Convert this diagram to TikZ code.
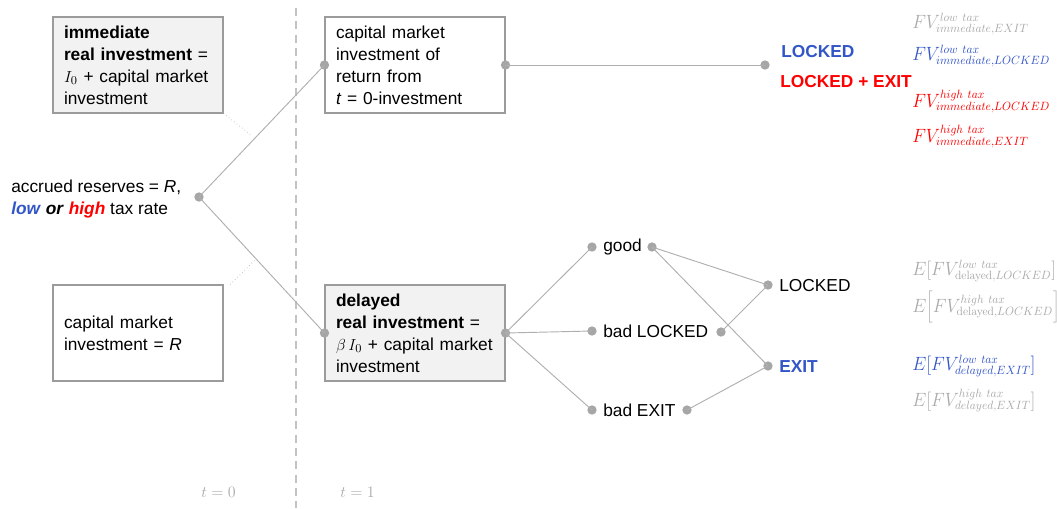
\documentclass[tikz,border=0pt]{standalone}
\usepackage[no-math]{fontspec}
\setmainfont{Liberation Sans}
\DeclareMathSizes{13.5}{14.4}{9}{7}
\definecolor{myblue}{RGB}{50,85,200}
\definecolor{myred}{RGB}{255,0,0}
\definecolor{txtgray}{RGB}{170,170,170}
\definecolor{linegray}{RGB}{175,175,175}
\definecolor{dotgray}{RGB}{166,166,166}
\definecolor{boxborder}{RGB}{155,155,155}
\definecolor{boxfill}{RGB}{242,242,242}
\newcommand{\fmlbox}[1]{\scalebox{0.93}[1]{$#1$}}
\begin{document}
\begin{tikzpicture}[x=0.75pt,y=-0.75pt,
  font=\fontsize{13}{16.5}\selectfont,
  box/.style={draw=boxborder,line width=0.8pt,rectangle,minimum height=72pt,align=left,inner xsep=8.25pt,inner ysep=0pt},
  shaded/.style={fill=boxfill},
  dotnode/.style={circle,fill=dotgray,inner sep=0pt,minimum size=7pt},
  conn/.style={draw=linegray,line width=0.7pt},
  callout/.style={draw=linegray,line width=0.5pt,dotted},
  lbl/.style={anchor=west,inner sep=0pt},
  fml/.style={anchor=base west,inner sep=0pt,font=\fontsize{13.5}{16}\selectfont},
]
\useasboundingbox (0,0) rectangle (1057,508);
% time divider
\draw[draw=txtgray!70,line width=0.8pt,dash pattern=on 6pt off 4pt] (296,8) coordinate (dtop) -- (296,508) coordinate (dbot);
\node[anchor=base west,inner sep=0pt,text=txtgray] (t0) at (201,497) {$t=0$};
\node[anchor=base west,inner sep=0pt,text=txtgray] (t1) at (340,497) {$t=1$};

% boxes
\node[box,shaded,text width=111pt] (A) at (138,65) {\textbf{immediate}\\\textbf{real investment} =\\$I_0$ + capital market\\investment};
\node[box,text width=111pt] (B) at (138,333) {capital market\\investment = \textit{R}};
\node[box,text width=118.5pt] (C) at (415,65) {capital market\\investment of\\return from\\\textit{t} = 0-investment};
\node[box,shaded,text width=118.5pt] (D) at (415,333) {\textbf{delayed}\\\textbf{real investment} =\\$\beta\, I_0$ + capital market\\investment};

% root
\node[anchor=west,align=left,inner sep=0pt] (rootlbl) at (11,199.5) {accrued reserves = \textit{R},\\\textcolor{myblue}{\textbf{\textit{low}}} \textbf{\textit{or}} \textcolor{myred}{\textbf{\textit{high}}} tax rate};
\node[dotnode] (root) at (199,197) {};
\node[dotnode] (Cw) at (C.west) {};
\node[dotnode] (Dw) at (D.west) {};
\node[dotnode] (Ce) at (C.east) {};
\node[dotnode] (De) at (D.east) {};
\draw[conn] (root.center) -- (Cw.center);
\draw[conn] (root.center) -- (Dw.center);

% callouts
\coordinate (ca) at (251,135);
\coordinate (cb) at (256,259);
\draw[callout] (A.south east) -- (ca);
\draw[callout] ([xshift=5pt]B.north east) -- (cb);

% immediate branch
\node[dotnode] (imm) at (765,65) {};
\draw[conn] (Ce.center) -- (imm.center);
\node[lbl,text=myblue,font=\fontsize{13}{16.5}\selectfont\bfseries] (lockedA) at (781,52) {LOCKED};
\node[lbl,text=myred,font=\fontsize{13}{16.5}\selectfont\bfseries] (lockedexit) at (780,82) {LOCKED + EXIT};

% delayed branch
\node[dotnode] (goodL) at (592,247) {};
\node[dotnode] (blL) at (592,331) {};
\node[dotnode] (beL) at (592,410) {};
\node[lbl] (good) at (603,247) {good};
\node[lbl] (badlocked) at (603,331) {bad LOCKED};
\node[lbl] (badexit) at (603,410) {bad EXIT};
\node[dotnode] (goodR) at (652,247) {};
\node[dotnode] (blR) at (721,332) {};
\node[dotnode] (beR) at (687,410) {};
\draw[conn] (De.center) -- (goodL.center);
\draw[conn] (De.center) -- (blL.center);
\draw[conn] (De.center) -- (beL.center);

\node[dotnode] (lockD) at (768,285) {};
\node[dotnode] (exitD) at (768,366) {};
\node[lbl] (lockedB) at (779,286) {LOCKED};
\node[lbl,text=myblue,font=\fontsize{13}{16.5}\selectfont\bfseries] (exitB) at (779,367) {EXIT};
\draw[conn] (goodR.center) -- (lockD.center);
\draw[conn] (goodR.center) -- (exitD.center);
\draw[conn] (blR.center) -- (lockD.center);
\draw[conn] (beR.center) -- (exitD.center);

% formulas immediate
\node[fml,text=txtgray] (f1) at (912,28) {\fmlbox{FV^{low\ tax}_{immediate,EXIT}}};
\node[fml,text=myblue] (f2) at (912,60) {\fmlbox{FV^{low\ tax}_{immediate,LOCKED}}};
\node[fml,text=myred] (f3) at (912,107) {\fmlbox{FV^{high\ tax}_{immediate,LOCKED}}};
\node[fml,text=myred] (f4) at (912,142) {\fmlbox{FV^{high\ tax}_{immediate,EXIT}}};

% formulas delayed
\node[fml,text=txtgray] (e1) at (912,275) {\fmlbox{E\Big[FV^{low\ tax}_{\mathrm{delayed},LOCKED}\Big]}};
\node[fml,text=txtgray] (e2) at (912,312) {\fmlbox{E\bigg[FV^{high\ tax}_{\mathrm{delayed},LOCKED}\bigg]}};
\node[fml,text=myblue] (e3) at (912,370) {\fmlbox{E\Big[FV^{low\ tax}_{delayed,EXIT}\Big]}};
\node[fml,text=txtgray] (e4) at (912,406) {\fmlbox{E\Big[FV^{high\ tax}_{delayed,EXIT}\Big]}};
\end{tikzpicture}
\end{document}
